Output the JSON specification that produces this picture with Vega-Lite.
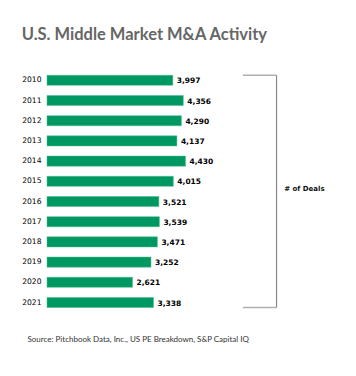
{
  "$schema": "https://vega.github.io/schema/vega-lite/v6.json",
  "width": 243,
  "height": 242.4,
  "autosize": {"type": "none"},
  "padding": {"left": 47, "top": 70.2, "right": 66, "bottom": 63.4},
  "background": "white",
  "config": {"view": {"stroke": null}},
  "title": {
    "text": "U.S. Middle Market M&A Activity",
    "anchor": "start",
    "frame": "bounds",
    "font": "Lato",
    "fontSize": 16.5,
    "fontWeight": "bold",
    "color": "#666666",
    "offset": 27
  },
  "data": {
    "values": [
      {"year": "2010", "deals": 3997},
      {"year": "2011", "deals": 4356},
      {"year": "2012", "deals": 4290},
      {"year": "2013", "deals": 4137},
      {"year": "2014", "deals": 4430},
      {"year": "2015", "deals": 4015},
      {"year": "2016", "deals": 3521},
      {"year": "2017", "deals": 3539},
      {"year": "2018", "deals": 3471},
      {"year": "2019", "deals": 3252},
      {"year": "2020", "deals": 2621},
      {"year": "2021", "deals": 3338}
    ]
  },
  "encoding": {
    "y": {
      "field": "year",
      "type": "nominal",
      "sort": null,
      "scale": {"paddingInner": 0.5, "paddingOuter": 0.25},
      "axis": {
        "title": null,
        "domain": false,
        "ticks": false,
        "labelPadding": 6,
        "labelFont": "DejaVu Sans",
        "labelFontSize": 7.6,
        "labelColor": "#000000"
      }
    }
  },
  "layer": [
    {
      "mark": {"type": "bar", "color": "#009862", "stroke": "#4dbb8f", "strokeWidth": 0.5},
      "encoding": {
        "x": {
          "field": "deals",
          "type": "quantitative",
          "scale": {"domain": [-300, 8000], "zero": false, "nice": false},
          "axis": {
            "title": "Source: Pitchbook Data, Inc., US PE Breakdown, S&P Capital IQ",
            "labels": false,
            "ticks": false,
            "domain": false,
            "grid": false,
            "titleFont": "Lato",
            "titleFontSize": 8,
            "titleFontWeight": "normal",
            "titleColor": "#333333",
            "titleAnchor": "start",
            "titleAlign": "left",
            "titleBaseline": "middle",
            "titleX": -20,
            "titleY": 26.5
          }
        },
        "x2": {"datum": -300}
      }
    },
    {
      "mark": {"type": "text", "align": "left", "baseline": "middle", "dx": 4, "dy": 1, "font": "DejaVu Sans", "fontSize": 7.5, "fontWeight": "bold", "color": "#000000"},
      "encoding": {
        "x": {"field": "deals", "type": "quantitative"},
        "text": {"field": "deals", "type": "quantitative", "format": ","}
      }
    },
    {
      "data": {"values": [{"label": "# of Deals"}]},
      "layer": [
        {
          "mark": {"type": "rule", "color": "#888888", "strokeWidth": 1.2},
          "encoding": {
            "x": {"datum": 7540},
            "y": {"datum": "2010", "bandPosition": 0},
            "y2": {"datum": "2021", "bandPosition": 1}
          }
        },
        {
          "mark": {"type": "rule", "color": "#b0b0b0", "strokeWidth": 1.5},
          "encoding": {
            "x": {"datum": 6390},
            "x2": {"datum": 7540},
            "y": {"datum": "2010", "bandPosition": 0}
          }
        },
        {
          "mark": {"type": "rule", "color": "#b0b0b0", "strokeWidth": 1.5},
          "encoding": {
            "x": {"datum": 6390},
            "x2": {"datum": 7540},
            "y": {"datum": "2021", "bandPosition": 1}
          }
        },
        {
          "mark": {"type": "text", "align": "left", "baseline": "middle", "dy": 2.4, "font": "DejaVu Sans", "fontSize": 7, "fontWeight": "bold", "color": "#111111"},
          "encoding": {
            "x": {"datum": 7800},
            "y": {"datum": "2015", "bandPosition": 1},
            "text": {"field": "label"}
          }
        }
      ]
    }
  ]
}
